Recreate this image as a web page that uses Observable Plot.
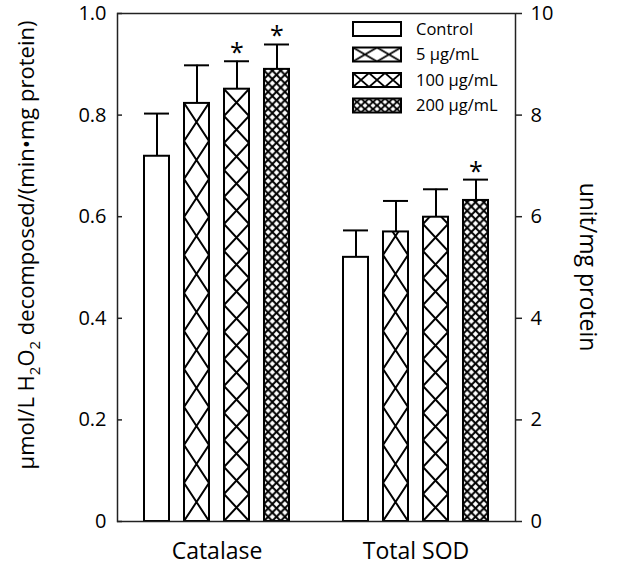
<!DOCTYPE html>
<html>
<head>
<meta charset="utf-8">
<script src="https://cdn.jsdelivr.net/npm/d3@7"></script>
<script src="https://cdn.jsdelivr.net/npm/@observablehq/plot@0.6"></script>
<style>
  body { margin: 0; background: #fff; }
  #chart { position: relative; width: 622px; height: 565px; font-family: "Open Sans", sans-serif; }
  #legend { position: absolute; left: 0; top: 0; pointer-events: none; }
</style>
</head>
<body>
<svg id="defs-holder" width="0" height="0" style="position:absolute"><defs id="bar-defs"></defs></svg>
<div id="chart"></div>
<script>
// ---------- data ----------
const groups = ["Catalase", "Total SOD"];
const series = ["Control", "5 µg/mL", "100 µg/mL", "200 µg/mL"];
const catalaseMean = [0.719, 0.823, 0.851, 0.890];
const catalaseSD   = [0.084, 0.075, 0.055, 0.049];
const catalaseSig  = [false, false, true, true];
const sodMean = [5.20, 5.70, 5.99, 6.32];
const sodSD   = [0.53, 0.61, 0.55, 0.41];
const sodSig  = [false, false, false, true];
const leftTicks  = [0, 0.2, 0.4, 0.6, 0.8, 1.0];
const rightTicks = [0, 2, 4, 6, 8, 10];
const sodAxisMax = 10; // right axis top (10) aligns with left axis top (1.0)

// ---------- styles ----------
const patternStyle = [
  null,                                   // Control: plain white
  {across: 1, h: 38, sw: 2, legendW: 24, legendH: 14},
  {across: 1, h: 27, sw: 2, legendW: 16, legendH: 14},
  {across: 3, h: 8.5, sw: 2, legendW: 8, legendH: 7}
];
const fillFor = i => patternStyle[i] ? `url(#pat-${i})` : "#fff";

const rows = [];
series.forEach((s, i) => {
  rows.push({group: groups[0], series: s, idx: i, value: catalaseMean[i], hi: catalaseMean[i] + catalaseSD[i], sig: catalaseSig[i]});
  rows.push({group: groups[1], series: s, idx: i, value: sodMean[i] / sodAxisMax, hi: (sodMean[i] + sodSD[i]) / sodAxisMax, sig: sodSig[i]});
});

const axisColor = "#222";

const plot = Plot.plot({
  width: 622, height: 565,
  marginLeft: 117, marginRight: 107, marginTop: 13, marginBottom: 44,
  style: {fontFamily: '"Open Sans", sans-serif', fontSize: "20px", color: "#000", background: "#fff", overflow: "visible"},
  fx: {domain: groups, padding: 0, label: null},
  x: {domain: series, paddingInner: 0.375, paddingOuter: 0.675, axis: null},
  y: {domain: [0, 1], axis: null},
  color: {type: "identity"},
  marks: [
    Plot.barY(rows, {fx: "group", x: "series", y: "value", fill: d => fillFor(d.idx), stroke: "#000", strokeWidth: 2}),
    Plot.ruleX(rows, {fx: "group", x: "series", y1: "value", y2: "hi", stroke: "#000", strokeWidth: 2}),
    Plot.tickY(rows, {fx: "group", x: "series", y: "hi", stroke: "#000", strokeWidth: 2, insetLeft: 0, insetRight: 0}),
    Plot.text(rows.filter(d => d.sig), {fx: "group", x: "series", y: "hi", text: () => "*", fontSize: 25, dy: -8, fill: "#000"}),
    Plot.frame({facet: "super", stroke: axisColor, strokeWidth: 1.5}),
    Plot.axisY({anchor: "left", ticks: leftTicks, tickFormat: d => d === 0 ? "0" : d.toFixed(1), tickSize: -5, tickPadding: 16, fontSize: 20, label: null, stroke: axisColor, strokeWidth: 1.5}),
    Plot.axisY({anchor: "right", ticks: rightTicks.map(t => t / sodAxisMax), tickFormat: d => String(Math.round(d * sodAxisMax)), tickSize: 6, tickPadding: 9, fontSize: 20, label: null, stroke: axisColor, strokeWidth: 1.5}),
    Plot.axisFx({anchor: "bottom", tickSize: 0, tickPadding: 21, fontSize: 23, label: null})
  ]
});

document.getElementById("chart").appendChild(plot);
const svg = d3.select(plot.tagName.toLowerCase() === "svg" ? plot : plot.querySelector("svg"));

// ---------- bar patterns aligned to bar positions ----------
const barDefs = d3.select("#bar-defs");
function addPattern(defs, id, x, y, w, h, sw) {
  const p = defs.append("pattern").attr("id", id).attr("patternUnits", "userSpaceOnUse")
    .attr("x", x).attr("y", y).attr("width", w).attr("height", h);
  p.append("rect").attr("width", w).attr("height", h).attr("fill", "#fff");
  p.append("path").attr("d", `M0,0L${w},${h}M${w},0L0,${h}`)
    .attr("stroke", "#000").attr("stroke-width", sw).attr("fill", "none");
}
patternStyle.forEach((ps, i) => {
  if (!ps) return;
  const rect = svg.select(`rect[fill="url(#pat-${i})"]`);
  const rx = +rect.attr("x"), rw = +rect.attr("width");
  const bottom = +rect.attr("y") + +rect.attr("height");
  addPattern(barDefs, `pat-${i}`, rx, bottom, rw / ps.across, ps.h, ps.sw);
});

// ---------- axis titles ----------
const leftTitle = svg.append("text")
  .attr("transform", "translate(34,245) rotate(-90)")
  .attr("text-anchor", "middle").attr("font-size", 22).attr("fill", "#000");
leftTitle.append("tspan").text("µmol/L H");
leftTitle.append("tspan").attr("font-size", 15).attr("dy", 6).text("2");
leftTitle.append("tspan").attr("dy", -6).text("O");
leftTitle.append("tspan").attr("font-size", 15).attr("dy", 6).text("2");
leftTitle.append("tspan").attr("dy", -6).text(" decomposed/(min•mg protein)");

svg.append("text")
  .attr("transform", "translate(580,267) rotate(90)")
  .attr("text-anchor", "middle").attr("font-size", 23).attr("fill", "#000")
  .text("unit/mg protein");

// ---------- legend ----------
const leg = d3.select("#chart").append("svg").attr("id", "legend").attr("width", 622).attr("height", 565);
const legDefs = leg.append("defs");
const legendX = 353, legendY0 = 22, legendStep = 25.5, boxW = 48, boxH = 14, legendTextX = 416;
series.forEach((s, i) => {
  const y = legendY0 + i * legendStep;
  const ps = patternStyle[i];
  if (ps) addPattern(legDefs, `lpat-${i}`, legendX, y, ps.legendW, ps.legendH, 1.8);
  leg.append("rect").attr("x", legendX).attr("y", y).attr("width", boxW).attr("height", boxH)
    .attr("fill", ps ? `url(#lpat-${i})` : "#fff").attr("stroke", "#000").attr("stroke-width", 2);
  leg.append("text").attr("x", legendTextX).attr("y", y + boxH / 2).attr("dy", "0.35em")
    .attr("font-size", 16.5).attr("font-family", '"Open Sans", sans-serif').attr("fill", "#000").text(s);
});
</script>
</body>
</html>
